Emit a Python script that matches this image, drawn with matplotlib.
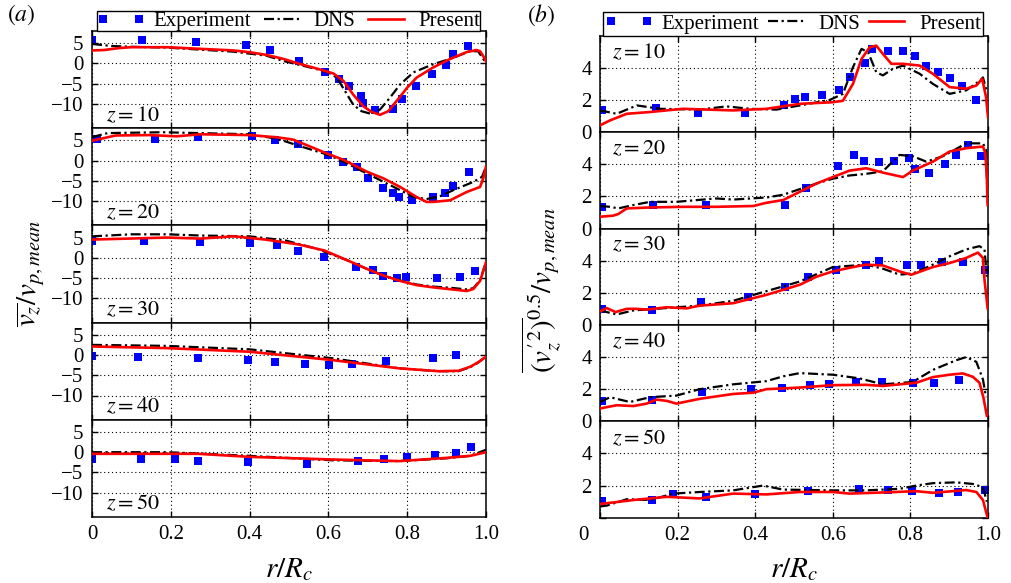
import matplotlib
matplotlib.use('Agg')
import matplotlib.pyplot as plt

# ---------------------------
# data
# ---------------------------
z_levels = [10, 20, 30, 40, 50]

# (a) mean axial velocity
mean10_exp_r = [0.0, 0.126, 0.264, 0.39, 0.453, 0.526, 0.592, 0.628, 0.652, 0.682, 0.689, 0.718, 0.763, 0.788, 0.822, 0.862, 0.898, 0.917, 0.954]
mean10_exp_v = [5.7, 5.7, 5.4, 4.6, 3.4, 0.7, -2.1, -3.9, -5.7, -8.0, -9.9, -11.6, -11.2, -8.9, -5.7, -2.6, -0.4, 2.2, 4.2]
mean10_dns_r = [0, 0.05, 0.1, 0.19, 0.274, 0.359, 0.401, 0.443, 0.486, 0.528, 0.57, 0.6, 0.621, 0.642, 0.663, 0.684, 0.71, 0.731, 0.756, 0.782, 0.816, 0.866, 0.909, 0.959, 0.98, 0.995, 1.0]
mean10_dns_v = [4.8, 4.3, 4.1, 3.9, 3.4, 2.9, 2.4, 1.9, 0.6, -0.4, -1.4, -2.2, -3.5, -6.8, -10.2, -11.8, -12.5, -11.4, -8.5, -5.2, -2.2, -0.2, 1.1, 3.0, 3.0, 0.8, 0.3]
mean10_pre_r = [0, 0.03, 0.07, 0.1, 0.19, 0.274, 0.359, 0.401, 0.443, 0.486, 0.528, 0.57, 0.613, 0.638, 0.663, 0.689, 0.71, 0.731, 0.752, 0.773, 0.8, 0.824, 0.866, 0.909, 0.951, 0.976, 0.985, 0.993, 1.0]
mean10_pre_v = [3.2, 3.3, 3.8, 4.0, 4.0, 3.6, 3.2, 2.75, 2.1, 1.1, -0.15, -1.25, -2.5, -4.3, -7.7, -10.6, -12.0, -12.7, -11.8, -9.3, -6.0, -3.5, -1.0, 1.1, 2.8, 3.3, 3.0, 1.8, 0.5]

mean20_exp_r = [0.012, 0.16, 0.27, 0.405, 0.464, 0.524, 0.6, 0.638, 0.672, 0.701, 0.738, 0.765, 0.779, 0.811, 0.865, 0.896, 0.915, 0.958]
mean20_exp_v = [5.4, 5.4, 5.8, 6.1, 5.0, 4.2, 1.4, -0.3, -1.5, -4.4, -6.75, -7.9, -9.0, -9.8, -9.0, -7.9, -6.25, -2.9]
mean20_dns_r = [0, 0.04, 0.18, 0.4, 0.47, 0.53, 0.6, 0.638, 0.698, 0.74, 0.782, 0.816, 0.849, 0.883, 0.917, 0.968, 0.99, 1.0]
mean20_dns_v = [5.8, 6.8, 7.0, 6.5, 5.4, 3.5, 1.4, -0.25, -3.2, -5.25, -7.3, -9.0, -9.5, -8.8, -7.3, -5.25, -4.0, -1.5]
mean20_pre_r = [0, 0.06, 0.145, 0.215, 0.275, 0.4, 0.47, 0.51, 0.553, 0.595, 0.638, 0.698, 0.74, 0.782, 0.824, 0.849, 0.866, 0.909, 0.951, 0.985, 0.993, 1.0]
mean20_pre_v = [4.9, 6.2, 6.3, 6.0, 6.5, 6.3, 5.75, 5.2, 3.5, 1.8, 0.2, -2.75, -4.4, -6.5, -9.0, -10.2, -10.2, -9.8, -7.75, -6.5, -4.4, -1.5]

mean30_exp_r = [0.0, 0.133, 0.275, 0.4, 0.47, 0.524, 0.59, 0.67, 0.714, 0.739, 0.773, 0.798, 0.876, 0.934, 0.972]
mean30_exp_v = [4.15, 4.15, 3.9, 3.65, 3.1, 1.65, 0.15, -2.2, -3.0, -4.4, -5.1, -4.7, -5.1, -4.7, -3.35]
mean30_dns_r = [0, 0.1, 0.19, 0.275, 0.4, 0.49, 0.57, 0.65, 0.698, 0.74, 0.782, 0.824, 0.866, 0.909, 0.951, 0.968, 0.985, 1.0]
mean30_dns_v = [5.3, 5.8, 5.8, 5.5, 5.3, 4.3, 2.25, -0.7, -2.75, -4.4, -5.6, -6.6, -7.1, -7.4, -7.8, -7.5, -5.5, -1.1]
mean30_pre_r = [0, 0.19, 0.275, 0.36, 0.44, 0.524, 0.59, 0.65, 0.698, 0.74, 0.782, 0.824, 0.866, 0.909, 0.951, 0.968, 0.985, 1.0]
mean30_pre_v = [4.5, 5.0, 4.75, 5.3, 4.5, 3.3, 1.8, -0.7, -2.75, -4.4, -5.7, -6.75, -7.3, -7.75, -8.2, -7.7, -5.7, -1.1]

mean40_exp_r = [0.0, 0.116, 0.268, 0.397, 0.465, 0.54, 0.601, 0.661, 0.747, 0.866, 0.925]
mean40_exp_v = [-0.25, -0.6, -0.8, -1.25, -1.75, -2.25, -2.5, -2.1, -1.5, -0.7, 0.0]
mean40_dns_r = [0, 0.19, 0.4, 0.61, 0.78, 0.88, 0.93, 0.96, 0.98, 1.0]
mean40_dns_v = [2.5, 2.25, 1.4, -0.8, -3.3, -4.0, -4.0, -3.0, -1.9, -0.4]
mean40_pre_r = [0, 0.19, 0.4, 0.61, 0.78, 0.88, 0.93, 0.96, 0.98, 1.0]
mean40_pre_v = [2.1, 1.7, 0.8, -1.25, -3.3, -4.0, -3.9, -2.9, -1.8, -0.4]

mean50_exp_r = [0.0, 0.124, 0.21, 0.27, 0.397, 0.545, 0.676, 0.74, 0.8, 0.87, 0.923, 0.963]
mean50_exp_v = [-1.65, -1.65, -1.8, -2.25, -2.5, -2.8, -2.25, -1.65, -1.15, -0.8, -0.3, 1.35]
mean50_dns_r = [0, 0.19, 0.4, 0.61, 0.78, 0.9, 0.96, 1.0]
mean50_dns_v = [0.0, 0.0, -0.9, -2.0, -2.2, -1.5, -0.9, 0.6]
mean50_pre_r = [0, 0.27, 0.4, 0.61, 0.78, 0.9, 0.96, 1.0]
mean50_pre_v = [-0.4, -0.4, -1.15, -1.8, -2.2, -1.4, -0.9, 0.0]

# (b) rms axial velocity
rms10_exp_r = [0.004, 0.144, 0.253, 0.373, 0.475, 0.502, 0.528, 0.572, 0.616, 0.645, 0.682, 0.701, 0.742, 0.781, 0.813, 0.839, 0.871, 0.903, 0.934, 0.97]
rms10_exp_v = [1.35, 1.5, 1.2, 1.2, 1.7, 2.07, 2.2, 2.32, 2.6, 3.46, 4.3, 5.2, 5.03, 5.03, 4.76, 4.1, 3.73, 3.38, 2.9, 1.97]
rms10_dns_r = [0, 0.043, 0.095, 0.155, 0.257, 0.326, 0.386, 0.455, 0.515, 0.592, 0.626, 0.652, 0.674, 0.691, 0.712, 0.729, 0.755, 0.781, 0.824, 0.858, 0.901, 0.944, 0.979, 0.987, 0.996]
rms10_dns_v = [1.35, 1.14, 1.66, 1.45, 1.4, 1.6, 1.45, 1.4, 1.66, 2.0, 2.38, 4.04, 5.18, 4.97, 3.73, 3.53, 3.94, 4.14, 3.63, 3.0, 2.38, 2.6, 3.2, 3.4, 2.6]
rms10_pre_r = [0, 0.026, 0.069, 0.129, 0.214, 0.343, 0.429, 0.515, 0.6, 0.626, 0.652, 0.674, 0.695, 0.712, 0.729, 0.751, 0.781, 0.824, 0.858, 0.901, 0.944, 0.97, 0.985, 0.995, 1.0]
rms10_pre_v = [0.42, 0.73, 1.14, 1.25, 1.45, 1.35, 1.45, 1.76, 1.86, 1.95, 3.0, 4.55, 5.28, 5.38, 4.87, 4.25, 4.25, 4.14, 3.63, 2.8, 2.7, 2.9, 3.32, 2.17, 0.93]

rms20_exp_r = [0.004, 0.136, 0.273, 0.476, 0.532, 0.614, 0.654, 0.68, 0.718, 0.757, 0.796, 0.811, 0.849, 0.888, 0.918, 0.948, 0.981]
rms20_exp_v = [1.31, 1.46, 1.46, 1.46, 2.5, 3.91, 4.58, 4.23, 4.16, 4.23, 4.37, 3.7, 3.43, 4.0, 4.58, 5.2, 4.54]
rms20_dns_r = [0, 0.026, 0.047, 0.086, 0.129, 0.197, 0.3, 0.343, 0.429, 0.472, 0.558, 0.6, 0.643, 0.686, 0.729, 0.772, 0.806, 0.841, 0.884, 0.944, 0.987, 0.995, 0.999]
rms20_dns_v = [1.4, 1.35, 1.25, 1.46, 1.66, 1.66, 1.87, 1.8, 1.93, 2.1, 2.8, 3.1, 3.3, 3.4, 3.56, 4.58, 4.5, 4.16, 4.5, 5.3, 5.3, 4.9, 1.6]
rms20_pre_r = [0, 0.034, 0.047, 0.069, 0.129, 0.215, 0.3, 0.395, 0.429, 0.472, 0.558, 0.6, 0.643, 0.686, 0.729, 0.781, 0.806, 0.858, 0.901, 0.944, 0.987, 0.993, 0.997, 0.999]
rms20_pre_v = [0.73, 0.8, 0.9, 1.25, 1.31, 1.35, 1.35, 1.4, 1.6, 1.77, 2.8, 3.2, 3.6, 3.75, 3.48, 3.2, 3.6, 4.16, 4.79, 5.0, 5.1, 4.7, 3.2, 1.46]

rms30_exp_r = [0.004, 0.133, 0.26, 0.382, 0.476, 0.536, 0.607, 0.685, 0.719, 0.79, 0.828, 0.882, 0.935, 0.991]
rms30_exp_v = [1.0, 0.9, 1.4, 1.73, 2.36, 2.98, 3.4, 3.75, 3.96, 3.75, 3.75, 3.9, 3.9, 3.4]
rms30_dns_r = [0, 0.043, 0.086, 0.257, 0.343, 0.429, 0.515, 0.6, 0.686, 0.729, 0.772, 0.806, 0.858, 0.901, 0.944, 0.978, 0.991, 0.997]
rms30_dns_v = [0.9, 0.65, 0.9, 1.2, 1.5, 2.1, 2.7, 3.6, 3.75, 3.5, 3.13, 3.2, 3.75, 4.27, 4.7, 4.9, 4.7, 3.0]
rms30_pre_r = [0, 0.017, 0.04, 0.069, 0.095, 0.12, 0.172, 0.223, 0.257, 0.343, 0.429, 0.515, 0.558, 0.6, 0.652, 0.686, 0.729, 0.772, 0.802, 0.858, 0.901, 0.944, 0.974, 0.987, 0.991, 0.999]
rms30_pre_v = [0.83, 1.05, 0.8, 1.0, 1.0, 0.95, 1.1, 1.03, 1.2, 1.35, 1.87, 2.5, 3.0, 3.33, 3.6, 3.75, 3.7, 3.33, 3.12, 3.6, 3.85, 4.17, 4.5, 4.17, 2.8, 1.04]

rms40_exp_r = [0.004, 0.133, 0.262, 0.388, 0.47, 0.541, 0.59, 0.661, 0.727, 0.806, 0.862, 0.926]
rms40_exp_v = [1.27, 1.35, 1.8, 1.98, 2.1, 2.25, 2.35, 2.46, 2.46, 2.4, 2.4, 2.56]
rms40_dns_r = [0, 0.026, 0.077, 0.129, 0.197, 0.257, 0.343, 0.429, 0.472, 0.515, 0.6, 0.669, 0.729, 0.806, 0.858, 0.918, 0.944, 0.97, 0.987, 0.995]
rms40_dns_v = [1.2, 1.5, 1.2, 1.5, 1.6, 2.0, 2.3, 2.5, 2.8, 3.0, 2.9, 2.67, 2.3, 2.45, 3.2, 3.8, 4.0, 3.7, 2.6, 1.5]
rms40_pre_r = [0, 0.043, 0.086, 0.12, 0.146, 0.172, 0.197, 0.257, 0.343, 0.395, 0.429, 0.515, 0.6, 0.686, 0.729, 0.815, 0.858, 0.901, 0.935, 0.961, 0.978, 0.988, 0.997]
rms40_pre_v = [0.8, 1.0, 0.95, 1.1, 1.35, 1.27, 1.1, 1.4, 1.7, 1.78, 2.0, 2.1, 2.25, 2.27, 2.2, 2.4, 2.75, 2.9, 2.98, 2.77, 2.4, 1.5, 0.35]

rms50_exp_r = [0.004, 0.135, 0.189, 0.272, 0.4, 0.536, 0.668, 0.742, 0.804, 0.873, 0.922, 0.991]
rms50_exp_v = [1.06, 1.1, 1.46, 1.3, 1.46, 1.67, 1.77, 1.7, 1.67, 1.56, 1.63, 1.7]
rms50_dns_r = [0, 0.017, 0.069, 0.129, 0.189, 0.257, 0.343, 0.42, 0.472, 0.6, 0.686, 0.772, 0.815, 0.858, 0.918, 0.961, 0.987, 0.997]
rms50_dns_v = [0.7, 0.75, 1.15, 1.1, 1.5, 1.6, 1.7, 2.0, 1.75, 1.7, 1.7, 1.8, 2.0, 2.15, 2.2, 2.1, 1.9, 1.0]
rms50_pre_r = [0, 0.086, 0.172, 0.257, 0.343, 0.429, 0.515, 0.6, 0.643, 0.729, 0.815, 0.858, 0.944, 0.97, 0.987, 0.999]
rms50_pre_v = [0.85, 1.1, 1.3, 1.2, 1.5, 1.45, 1.6, 1.6, 1.5, 1.57, 1.65, 1.55, 1.72, 1.6, 1.1, 0.0]

mean_panels = [
    (mean10_exp_r, mean10_exp_v, mean10_dns_r, mean10_dns_v, mean10_pre_r, mean10_pre_v),
    (mean20_exp_r, mean20_exp_v, mean20_dns_r, mean20_dns_v, mean20_pre_r, mean20_pre_v),
    (mean30_exp_r, mean30_exp_v, mean30_dns_r, mean30_dns_v, mean30_pre_r, mean30_pre_v),
    (mean40_exp_r, mean40_exp_v, mean40_dns_r, mean40_dns_v, mean40_pre_r, mean40_pre_v),
    (mean50_exp_r, mean50_exp_v, mean50_dns_r, mean50_dns_v, mean50_pre_r, mean50_pre_v),
]
rms_panels = [
    (rms10_exp_r, rms10_exp_v, rms10_dns_r, rms10_dns_v, rms10_pre_r, rms10_pre_v),
    (rms20_exp_r, rms20_exp_v, rms20_dns_r, rms20_dns_v, rms20_pre_r, rms20_pre_v),
    (rms30_exp_r, rms30_exp_v, rms30_dns_r, rms30_dns_v, rms30_pre_r, rms30_pre_v),
    (rms40_exp_r, rms40_exp_v, rms40_dns_r, rms40_dns_v, rms40_pre_r, rms40_pre_v),
    (rms50_exp_r, rms50_exp_v, rms50_dns_r, rms50_dns_v, rms50_pre_r, rms50_pre_v),
]

# ---------------------------
# style
# ---------------------------
plt.rcParams['font.family'] = ['Liberation Serif', 'DejaVu Serif']
plt.rcParams['mathtext.fontset'] = 'stix'
plt.rcParams['font.size'] = 15
plt.rcParams['axes.linewidth'] = 1.1

W, H = 1011, 583
fig = plt.figure(figsize=(W / 100, H / 100), dpi=100)


def px_box(x0, y0, x1, y1):
    return [x0 / W, 1 - y1 / H, (x1 - x0) / W, (y1 - y0) / H]


def draw(ax, data):
    er, ev, dr, dv, pr, pv = data
    ax.plot(er, ev, 's', color='#0000ff', ms=5.2, mew=0, zorder=2, label='Experiment')
    ax.plot(dr, dv, color='k', lw=1.6, dashes=(4.5, 1.6, 1.0, 1.6), zorder=3, label='DNS')
    ax.plot(pr, pv, color='#ff0000', lw=1.9, zorder=4, label='Present')
    ax.set_xlim(0, 1)
    ax.set_xticks([0, 0.2, 0.4, 0.6, 0.8, 1.0])
    ax.grid(True, color='k', ls=(0, (1, 2.5)), lw=0.8)
    ax.tick_params(direction='in', top=True, right=True, length=4, width=1.0, pad=6,
                   labelsize=15)


left_top, left_h = 31.0, 97.2
right_top, right_h = 35.7, 96.4
left_axes, right_axes = [], []
for i in range(5):
    ax = fig.add_axes(px_box(92, left_top + i * left_h, 486, left_top + (i + 1) * left_h))
    draw(ax, mean_panels[i])
    ax.set_ylim(-16, 8)
    ax.set_yticks([-10, -5, 0, 5])
    ax.text(0.036, 0.025, r'$z = %d$' % z_levels[i], transform=ax.transAxes,
            ha='left', va='bottom', fontsize=16)
    if i < 4:
        ax.tick_params(labelbottom=False)
    else:
        ax.set_xticklabels(['0', '0.2', '0.4', '0.6', '0.8', '1.0'])
    left_axes.append(ax)

    ax = fig.add_axes(px_box(600, right_top + i * right_h, 988, right_top + (i + 1) * right_h))
    draw(ax, rms_panels[i])
    ax.set_ylim(0, 6)
    ax.set_yticks([0, 2, 4])
    ax.text(0.031, 0.82, r'$z = %d$' % z_levels[i], transform=ax.transAxes,
            ha='left', va='center', fontsize=16)
    if i < 4:
        ax.tick_params(labelbottom=False)
    else:
        ax.set_yticklabels(['', '2', '4'])
        ax.set_xticklabels(['', '0.2', '0.4', '0.6', '0.8', '1.0'])
    right_axes.append(ax)

# legends on top of each column
for ax, bb, bp in [(left_axes[0], (0.013, 1.0, 0.972, 0.2), 0.0),
                   (right_axes[0], (0.008, 1.0, 0.979, 0.25), 0.1)]:
    leg = ax.legend(loc='lower left', bbox_to_anchor=bb, mode='expand', ncol=3,
                    borderaxespad=0, borderpad=bp, numpoints=2, handlelength=2.3,
                    handletextpad=0.4, columnspacing=0.6, fancybox=False,
                    edgecolor='k', framealpha=1, fontsize=15)
    leg.get_frame().set_linewidth(1.0)

# axis labels and panel tags
fig.text(583 / W, 1 - 535 / H, '0', ha='center', va='center', fontsize=15)
fig.text(289 / W, 1 - 570 / H, r'$r/R_c$', ha='center', va='center', fontsize=21)
fig.text(794 / W, 1 - 570 / H, r'$r/R_c$', ha='center', va='center', fontsize=21)
fig.text(30 / W, 1 - 273 / H, r'$\overline{v_z}/v_{p,mean}$', rotation=90,
         ha='center', va='center', fontsize=21)
fig.text(541 / W, 1 - 290 / H, r"$\overline{(v_z'^2)}^{0.5}/v_{p,mean}$", rotation=90,
         ha='center', va='center', fontsize=21)
fig.text(21 / W, 1 - 15 / H, r'$(a)$', ha='center', va='center', fontsize=17)
fig.text(541 / W, 1 - 15 / H, r'$(b)$', ha='center', va='center', fontsize=17)

fig.savefig('out.png', dpi=100)
